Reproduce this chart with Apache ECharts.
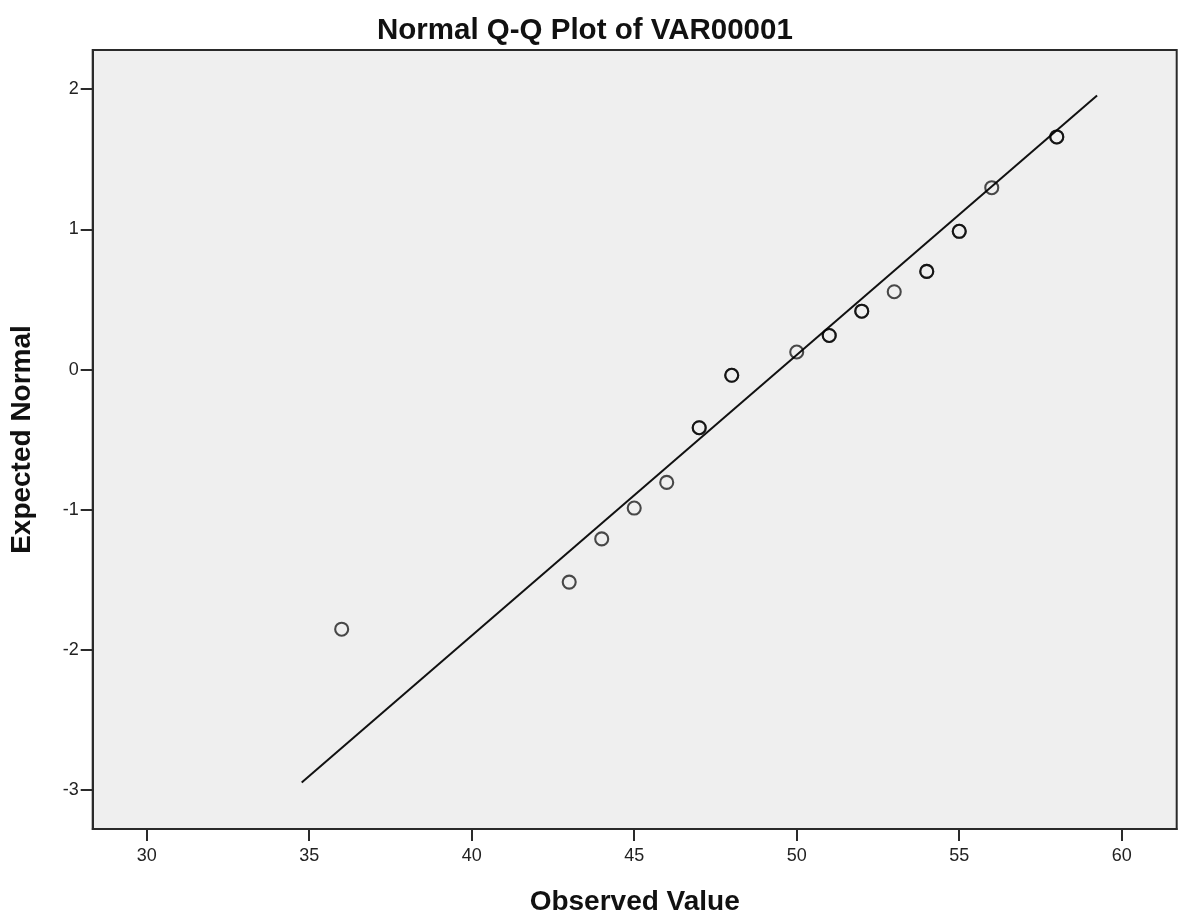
<!DOCTYPE html>
<html>
<head>
<meta charset="utf-8">
<script src="https://cdn.jsdelivr.net/npm/echarts@6/dist/echarts.min.js"></script>
<style>
html,body{margin:0;padding:0;background:#fff;}
#chart{width:1181px;height:921px;}
</style>
</head>
<body>
<div id="chart"></div>
<script>
var observed = [36, 43, 44, 45, 46, 47, 48, 50, 51, 52, 53, 54, 55, 56, 58];
var expectedNormal = [-1.852, -1.516, -1.208, -0.988, -0.805, -0.415, -0.041, 0.125, 0.243, 0.416, 0.555, 0.700, 0.986, 1.297, 1.659];
// number of overlapping cases drawn at each point (darker rings)
var caseCount = [1, 1, 1, 1, 1, 2, 2, 1, 2, 2, 1, 2, 2, 1, 2];
// reference line endpoints
var lineX = [34.77, 59.24];
var lineY = [-2.946, 1.955];
// tick labels
var xTicks = [30, 35, 40, 45, 50, 55, 60];
var yTicks = [-3, -2, -1, 0, 1, 2];

var pts = [];
for (var i = 0; i < observed.length; i++) {
  for (var k = 0; k < caseCount[i]; k++) pts.push([observed[i], expectedNormal[i]]);
}
var linePts = [[lineX[0], lineY[0]], [lineX[1], lineY[1]]];

var chart = echarts.init(document.getElementById('chart'), null, {renderer: 'canvas'});
var FONT = 'Liberation Sans, Arial, sans-serif';
chart.setOption({
  animation: false,
  backgroundColor: '#ffffff',
  title: {
    text: 'Normal Q-Q Plot of VAR00001',
    left: 372, top: 11,
    textStyle: {fontFamily: FONT, fontWeight: 'bold', fontSize: 29.5, color: '#111'}
  },
  grid: {
    left: 92.7, right: 4.3, top: 50, bottom: 88.7,
    show: true, backgroundColor: '#efefef', borderColor: '#2a2a2a', borderWidth: 2
  },
  xAxis: {
    type: 'value', min: 28.34, max: 61.69,
    name: 'Observed Value', nameLocation: 'middle', nameGap: 59,
    nameTextStyle: {fontFamily: FONT, fontWeight: 'bold', fontSize: 28, color: '#111'},
    axisLine: {show: true, onZero: false, lineStyle: {color: '#2a2a2a', width: 2}},
    axisTick: {show: true, length: 12, customValues: xTicks, lineStyle: {color: '#2a2a2a', width: 2}},
    axisLabel: {customValues: xTicks, margin: 18, fontSize: 18, color: '#222', fontFamily: FONT},
    splitLine: {show: false}
  },
  yAxis: {
    type: 'value', min: -3.277, max: 2.279,
    name: 'Expected Normal', nameLocation: 'middle', nameGap: 56,
    nameTextStyle: {fontFamily: FONT, fontWeight: 'bold', fontSize: 28, color: '#111'},
    axisLine: {show: true, onZero: false, lineStyle: {color: '#2a2a2a', width: 2}},
    axisTick: {show: true, length: 12, customValues: yTicks, lineStyle: {color: '#2a2a2a', width: 2}},
    axisLabel: {customValues: yTicks, margin: 14, fontSize: 18, color: '#222', fontFamily: FONT},
    splitLine: {show: false}
  },
  series: [
    {
      type: 'line', data: linePts, showSymbol: false, silent: true,
      lineStyle: {color: '#111', width: 2}, z: 2
    },
    {
      type: 'scatter', data: pts, symbol: 'circle', symbolSize: 13,
      itemStyle: {color: 'rgba(0,0,0,0)', borderColor: 'rgba(0,0,0,0.88)', borderWidth: 2.1},
      z: 3
    }
  ]
});
</script>
</body>
</html>
